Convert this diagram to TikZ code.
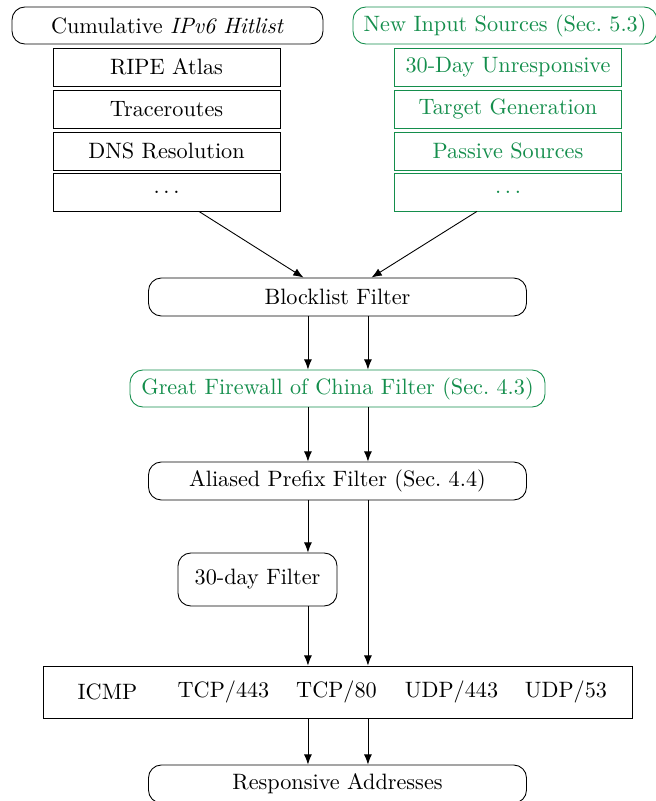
\documentclass[tikz,border=0pt]{standalone}
\usetikzlibrary{arrows.meta}
\definecolor{srcgreen}{RGB}{20,142,76}
\tikzset{
  rbox/.style={draw, rounded corners=5.8pt, inner sep=0pt, align=center},
  sbox/.style={draw, inner sep=0pt, minimum width=102.15pt, minimum height=17.1pt},
  newsrc/.style={draw=srcgreen, text=srcgreen},
  arr/.style={-{Latex[length=4.6pt,width=3.6pt]}},
}
\begin{document}
\begin{tikzpicture}[x=0.45pt, y=-0.45pt]
\useasboundingbox (0,0) rectangle (655,801);

% existing hitlist sources
\node[rbox, minimum width=139.95pt, minimum height=16.65pt] (cum) at (167.5,25.5) {Cumulative \textit{IPv6 Hitlist}};
\node[sbox] (ripe)  at (166.5,67)  {RIPE Atlas};
\node[sbox] (trace) at (166.5,109) {Traceroutes};
\node[sbox] (dns)   at (166.5,151) {DNS Resolution};
\node[sbox] (dotsA) at (166.5,192) {$\ldots$};

% new input sources
\node[rbox, newsrc, minimum width=136.8pt, minimum height=16.65pt] (new) at (505,25.5) {New Input Sources (Sec.~5.3)};
\node[sbox, newsrc] (unresp) at (508,67)  {30-Day Unresponsive};
\node[sbox, newsrc] (tgen)   at (508,109) {Target Generation};
\node[sbox, newsrc] (pass)   at (508,151) {Passive Sources};
\node[sbox, newsrc] (dotsB)  at (508,192) {$\ldots$};

% filter pipeline
\node[rbox, minimum width=170.1pt, minimum height=17.1pt] (block) at (337.5,297) {Blocklist Filter};
\node[rbox, newsrc, minimum width=186.75pt, minimum height=16.65pt] (gfw) at (337.5,388.5) {Great Firewall of China Filter (Sec.~4.3)};
\node[rbox, minimum width=170.1pt, minimum height=17.1pt] (alias) at (337.5,481) {Aliased Prefix Filter (Sec.~4.4)};
\node[rbox, minimum width=71.55pt, minimum height=23.85pt] (thirty) at (257.5,579.5) {30-day Filter};

% probed protocols
\node[draw, inner sep=0pt, minimum width=265.05pt, minimum height=23.4pt] (proto) at (337.5,692) {};
\node (icmp)  at (107.5,692) {ICMP};
\node (t443)  at (223.5,692) {TCP$/$443};
\node (t80)   at (336.5,692) {TCP$/$80};
\node (u443)  at (451.5,692) {UDP$/$443};
\node (u53)   at (566,692) {UDP$/$53};

\node[rbox, minimum width=170.1pt, minimum height=17.1pt] (resp) at (337.5,784) {Responsive Addresses};

% connectors
\draw[arr] ([xshift=14.6pt]dotsA.south) -- ([xshift=-15.3pt]block.north);
\draw[arr] ([xshift=-14pt]dotsB.south) -- ([xshift=15.3pt]block.north);

\draw[arr] ([xshift=-13.3pt]block.south) -- ([xshift=-13.3pt]gfw.north);
\draw[arr] ([xshift=13.7pt]block.south) -- ([xshift=13.7pt]gfw.north);

\draw[arr] ([xshift=-13.3pt]gfw.south) -- ([xshift=-13.3pt]alias.north);
\draw[arr] ([xshift=13.7pt]gfw.south) -- ([xshift=13.7pt]alias.north);

\draw[arr] ([xshift=-13.3pt]alias.south) -- ([xshift=-13.3pt]alias.south |- thirty.north);
\draw[arr] ([xshift=-13.3pt]alias.south |- thirty.south) -- ([xshift=-13.3pt]proto.north);
\draw[arr] ([xshift=13.7pt]alias.south) -- ([xshift=13.7pt]proto.north);

\draw[arr] ([xshift=-13.3pt]proto.south) -- ([xshift=-13.3pt]resp.north);
\draw[arr] ([xshift=13.7pt]proto.south) -- ([xshift=13.7pt]resp.north);
\end{tikzpicture}
\end{document}
